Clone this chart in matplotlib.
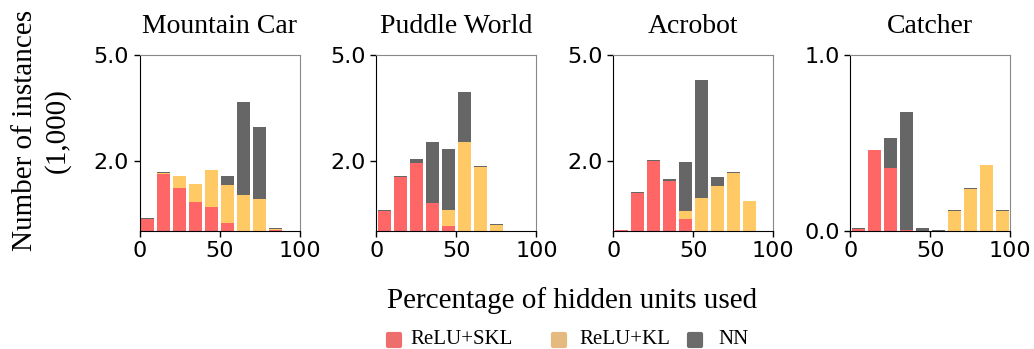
import matplotlib.pyplot as plt
from matplotlib.lines import Line2D
from matplotlib.markers import MarkerStyle
import numpy as np

envs = ["Mountain Car", "Puddle World", "Acrobot", "Catcher"]
bins = np.arange(5, 100, 10)

# values in thousands
mc_skl = [0.34, 1.62, 1.22, 0.83, 0.69, 0.22, 0.01, 0.0, 0.02, 0.0]
mc_kl = [0.35, 1.65, 1.56, 1.33, 1.72, 1.31, 1.01, 0.90, 0.06, 0.0]
mc_nn = [0.37, 1.68, 1.57, 1.34, 1.74, 1.57, 3.67, 2.96, 0.085, 0.015]

pw_skl = [0.57, 1.53, 1.92, 0.79, 0.13, 0.0, 0.0, 0.0, 0.0, 0.0]
pw_kl = [0.57, 1.53, 1.92, 0.80, 0.60, 2.53, 1.81, 0.17, 0.0, 0.0]
pw_nn = [0.585, 1.55, 2.05, 2.53, 2.33, 3.94, 1.85, 0.19, 0.01, 0.01]

ac_skl = [0.02, 1.09, 2.0, 1.43, 0.33, 0.0, 0.0, 0.0, 0.0, 0.0]
ac_kl = [0.02, 1.09, 2.0, 1.43, 0.58, 0.95, 1.27, 1.66, 0.84, 0.0]
ac_nn = [0.04, 1.11, 2.02, 1.48, 1.96, 4.28, 1.52, 1.68, 0.86, 0.01]

ca_skl = [0.013, 0.457, 0.355, 0.005, 0.0, 0.0, 0.0, 0.0, 0.0, 0.0]
ca_kl = [0.013, 0.457, 0.355, 0.008, 0.0, 0.003, 0.113, 0.238, 0.374, 0.113]
ca_nn = [0.019, 0.462, 0.528, 0.675, 0.019, 0.008, 0.117, 0.242, 0.377, 0.117]

data = [(mc_skl, mc_kl, mc_nn), (pw_skl, pw_kl, pw_nn),
        (ac_skl, ac_kl, ac_nn), (ca_skl, ca_kl, ca_nn)]
ylims = [5, 5, 5, 1]
yticks = [[2, 5], [2, 5], [2, 5], [0, 1]]

labels = ["ReLU+SKL", "ReLU+KL", "NN"]
legend_colors = ["#EE6E6E", "#E5BA7E", "#6B6B6B"]

red = "#FF6666"
orange = "#FFC966"
grey = "#666666"
serif = "Liberation Serif"

fig, axes = plt.subplots(1, 4, figsize=(10.34, 3.49), dpi=100)
fig.subplots_adjust(left=0.135, right=0.977, top=0.843, bottom=0.338, wspace=0.48)

for ax, name, (skl, kl, nn), ym, yt in zip(axes, envs, data, ylims, yticks):
    ax.bar(bins, nn, width=8, color=grey)
    ax.bar(bins, kl, width=8, color=orange)
    ax.bar(bins, skl, width=8, color=red)
    ax.set_xlim(0, 100)
    ax.set_ylim(0, ym)
    ax.set_xticks([0, 50, 100])
    ax.set_yticks(yt)
    ax.set_yticklabels(["%.1f" % v for v in yt])
    ax.tick_params(labelsize=16, length=4, width=1)
    ax.set_title(name, fontsize=20, family=serif, pad=16)
    ax.spines["top"].set_color("#888888")
    ax.spines["right"].set_color("#888888")

fig.text(0.0403, 0.626, "Number of instances\n(1,000)", rotation=90,
         ha="center", va="center", multialignment="center",
         fontsize=21, family=serif, linespacing=1.3)
fig.text(0.553, 0.14, "Percentage of hidden units used", ha="center",
         va="center", fontsize=21, family=serif)

# legend entries placed by hand (uneven spacing as in the original)
W, H = 1034.0, 349.0
marker_x = [394, 559, 695]
text_x = [410, 579, 718]
sq = MarkerStyle("s", joinstyle="round")
for mx, tx, lab, c in zip(marker_x, text_x, labels, legend_colors):
    fig.add_artist(Line2D([mx / W], [1 - 340 / H], transform=fig.transFigure,
                          marker=sq, ms=8, mew=3, color=c, ls="none"))
    fig.text(tx / W, 1 - 340 / H, lab, ha="left", va="center",
             fontsize=15, family=serif)

fig.savefig("out.png", dpi=100)
